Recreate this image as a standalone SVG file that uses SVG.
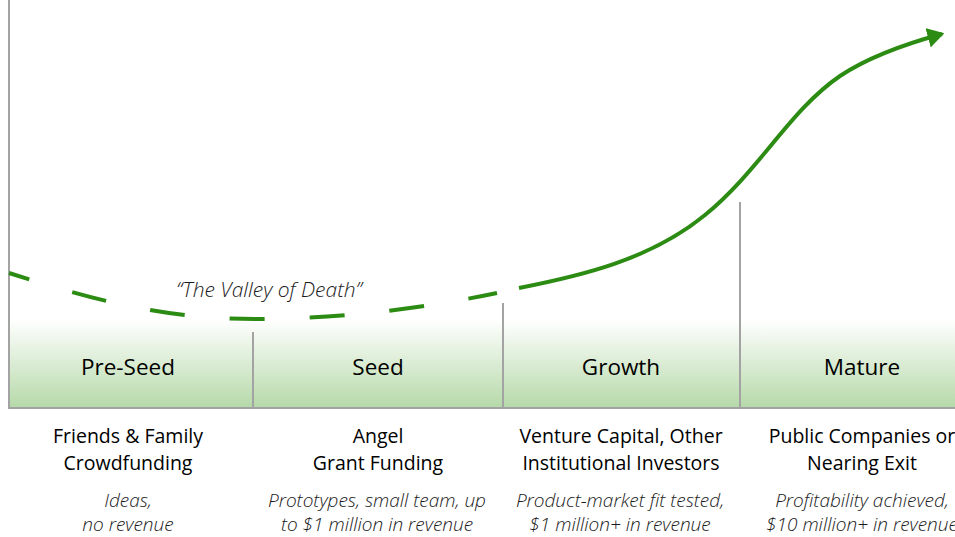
<svg xmlns="http://www.w3.org/2000/svg" width="955" height="537" viewBox="0 0 955 537">
<style>
.axis{stroke:#a3a3a3;stroke-width:2;fill:none}
.curve{stroke:#2b8b12;stroke-width:4;fill:none}
.stage{font-family:"Open Sans","Noto Sans",sans-serif;font-size:22.5px;fill:#000;text-anchor:middle}
.fund{font-family:"Open Sans","Noto Sans",sans-serif;font-size:19.5px;fill:#000;text-anchor:middle}
.desc{font-family:"Open Sans","Noto Sans",sans-serif;font-size:19px;font-style:italic;font-weight:300;fill:#1a1a1a;text-anchor:middle}
.valley{font-family:"Open Sans","Noto Sans",sans-serif;font-size:21px;font-style:italic;font-weight:300;fill:#1a1a1a;text-anchor:middle}
</style>
<defs>
<linearGradient id="band" x1="0" y1="0" x2="0" y2="1">
<stop offset="0" stop-color="#ffffff"/>
<stop offset="1" stop-color="#b5d9a8"/>
</linearGradient>
<marker id="arrow" markerWidth="5" markerHeight="5" refX="3.6" refY="2.5" orient="auto" markerUnits="strokeWidth">
<path d="M0,0 L4.2,2.5 L0,5 Z" fill="#2b8b12"/>
</marker>
</defs>
<rect x="9" y="320" width="946" height="88" fill="url(#band)"/>
<g id="axes">
<line class="axis" x1="9" y1="0" x2="9" y2="409"/>
<line class="axis" x1="8" y1="408" x2="955" y2="408"/>
</g>
<g id="connectors">
<path class="curve" stroke-dasharray="35 45" stroke-dashoffset="14" d="M9,273 C 100,302 170,320 262,319 C 350,318 430,307 497,293"/>
<path class="curve" marker-end="url(#arrow)" d="M519,288 C 580,276 650,260 705,215 C 760,170 790,110 840,76 C 870,56 905,44 942,34"/>
</g>
<text class="valley" x="269" y="297">“The Valley of Death”</text>
<g id="preseed">
<line class="axis" x1="253" y1="332" x2="253" y2="408"/>
<text class="stage" x="128" y="375">Pre-Seed</text>
<text class="fund" x="128" y="443">Friends &amp; Family</text>
<text class="fund" x="128" y="470">Crowdfunding</text>
<text class="desc" x="128" y="507">Ideas,</text>
<text class="desc" x="128" y="531">no revenue</text>
</g>
<g id="seed">
<line class="axis" x1="503" y1="303" x2="503" y2="408"/>
<text class="stage" x="378" y="375">Seed</text>
<text class="fund" x="378" y="443">Angel</text>
<text class="fund" x="378" y="470">Grant Funding</text>
<text class="desc" x="377" y="507">Prototypes, small team, up</text>
<text class="desc" x="377" y="531">to $1 million in revenue</text>
</g>
<g id="growth">
<line class="axis" x1="740" y1="202" x2="740" y2="408"/>
<text class="stage" x="621" y="375">Growth</text>
<text class="fund" x="621" y="443">Venture Capital, Other</text>
<text class="fund" x="621" y="470">Institutional Investors</text>
<text class="desc" x="620" y="507">Product-market fit tested,</text>
<text class="desc" x="620" y="531">$1 million+ in revenue</text>
</g>
<g id="mature">
<text class="stage" x="862" y="375">Mature</text>
<text class="fund" x="862" y="443">Public Companies or</text>
<text class="fund" x="862" y="470">Nearing Exit</text>
<text class="desc" x="862" y="507">Profitability achieved,</text>
<text class="desc" x="862" y="531">$10 million+ in revenue</text>
</g>
</svg>
